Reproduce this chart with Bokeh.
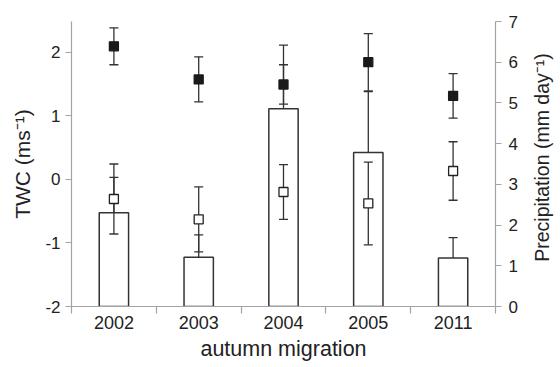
import math
from bokeh.plotting import figure
from bokeh.models import Range1d, LinearAxis, FixedTicker, ColumnDataSource, Label
from bokeh.embed import file_html
from bokeh.resources import INLINE

# ---- data ----
years = ["2002", "2003", "2004", "2005", "2011"]
precip = [2.30, 1.21, 4.86, 3.78, 1.19]          # mm/day (bars, right axis)
precip_err = [0.87, 0.55, 1.56, 1.50, 0.50]
twc_filled = [2.09, 1.57, 1.49, 1.84, 1.31]      # m/s (filled squares, left axis)
twc_filled_err = [0.29, 0.355, 0.31, 0.45, 0.35]
twc_open = [-0.31, -0.63, -0.20, -0.38, 0.13]    # m/s (open squares, left axis)
twc_open_err = [0.55, 0.51, 0.43, 0.65, 0.46]
twc_ticks = [-2, -1, 0, 1, 2]
precip_ticks = [0, 1, 2, 3, 4, 5, 6, 7]

FONT = "Liberation Sans"
AXIS_COL = "#a3a3a3"
TXT_COL = "#222222"
ERR_COL = "#333333"

n = len(years)
xs = [i + 0.5 for i in range(n)]
bounds = list(range(n + 1))

src = ColumnDataSource(dict(
    x=xs,
    precip=precip,
    precip_hi=[a + b for a, b in zip(precip, precip_err)],
    f=twc_filled,
    f_lo=[a - b for a, b in zip(twc_filled, twc_filled_err)],
    f_hi=[a + b for a, b in zip(twc_filled, twc_filled_err)],
    o=twc_open,
    o_lo=[a - b for a, b in zip(twc_open, twc_open_err)],
    o_hi=[a + b for a, b in zip(twc_open, twc_open_err)],
))

p = figure(width=560, height=367, x_range=Range1d(0, n), y_range=Range1d(-2, 2.48),
           output_backend="svg", toolbar_location=None,
           x_axis_type=None, y_axis_type=None,
           min_border_left=71, min_border_right=65, min_border_top=21, min_border_bottom=61)
p.extra_y_ranges = {"precip": Range1d(0, 7)}
p.outline_line_color = None
p.background_fill_color = "white"
p.border_fill_color = "white"

def style_axis(ax, size="17px", title_size="21px"):
    ax.axis_line_color = AXIS_COL
    ax.axis_line_width = 1.2
    ax.major_tick_line_color = AXIS_COL
    ax.major_tick_line_width = 1.2
    ax.minor_tick_line_color = AXIS_COL
    ax.minor_tick_line_width = 1.2
    ax.major_label_text_font = FONT
    ax.major_label_text_font_size = size
    ax.major_label_text_color = TXT_COL
    ax.axis_label_text_font = FONT
    ax.axis_label_text_font_size = title_size
    ax.axis_label_text_font_style = "normal"
    ax.axis_label_text_color = TXT_COL

# left axis (TWC)
left = LinearAxis(ticker=FixedTicker(ticks=twc_ticks, minor_ticks=[]),
                  major_label_overrides={t: str(t) for t in twc_ticks},
                  axis_label="TWC (ms⁻¹)")
style_axis(left)
left.major_tick_out = 6
left.major_tick_in = 0
left.major_label_standoff = 5
left.axis_label_standoff = 8
p.add_layout(left, "left")

# right axis (precipitation)
right = LinearAxis(y_range_name="precip", ticker=FixedTicker(ticks=precip_ticks, minor_ticks=[]))
style_axis(right)
right.major_tick_out = 6
right.major_tick_in = 0
right.major_label_standoff = 7
p.add_layout(right, "right")

# right axis title (reads bottom-to-top)
p.add_layout(Label(x=5.55, y=3.66, y_range_name="precip", text="Precipitation (mm day⁻¹)",
                   angle=math.pi / 2, text_align="center", text_baseline="middle",
                   text_font=FONT, text_font_size="19.5px", text_color=TXT_COL), "right")

# bottom axis: labels at centres, ticks at category boundaries
bottom = LinearAxis(ticker=FixedTicker(ticks=xs, minor_ticks=bounds),
                    major_label_overrides={x: y for x, y in zip(xs, years)},
                    axis_label="autumn migration")
style_axis(bottom, "18px", "21.5px")
bottom.major_tick_out = 0
bottom.major_tick_in = 0
bottom.minor_tick_out = 7
bottom.minor_tick_in = 0
bottom.major_label_standoff = 2
bottom.axis_label_standoff = 5
p.add_layout(bottom, "below")

# bars
p.vbar(x="x", top="precip", bottom=0, width=0.346, source=src, y_range_name="precip",
       fill_color="white", line_color=ERR_COL, line_width=1.5)
# bar error (upward)
p.segment(x0="x", y0="precip", x1="x", y1="precip_hi", source=src, y_range_name="precip",
          line_color=ERR_COL, line_width=1.3)
p.scatter(x="x", y="precip_hi", source=src, y_range_name="precip", marker="dash",
          size=9, line_color=ERR_COL, line_width=1.3)

# open squares error bars
p.segment(x0="x", y0="o_lo", x1="x", y1="o_hi", source=src, line_color=ERR_COL, line_width=1.3)
p.scatter(x="x", y="o_lo", source=src, marker="dash", size=9, line_color=ERR_COL, line_width=1.3)
p.scatter(x="x", y="o_hi", source=src, marker="dash", size=9, line_color=ERR_COL, line_width=1.3)
# filled squares error bars
p.segment(x0="x", y0="f_lo", x1="x", y1="f_hi", source=src, line_color=ERR_COL, line_width=1.3)
p.scatter(x="x", y="f_lo", source=src, marker="dash", size=9, line_color=ERR_COL, line_width=1.3)
p.scatter(x="x", y="f_hi", source=src, marker="dash", size=9, line_color=ERR_COL, line_width=1.3)

# squares
p.scatter(x="x", y="o", source=src, marker="square", size=9, fill_color="white",
          line_color="#222222", line_width=1.3)
p.scatter(x="x", y="f", source=src, marker="square", size=9, fill_color="#1a1a1a",
          line_color="#1a1a1a", line_width=1.3)

open("out.html", "w").write(file_html(p, INLINE))
